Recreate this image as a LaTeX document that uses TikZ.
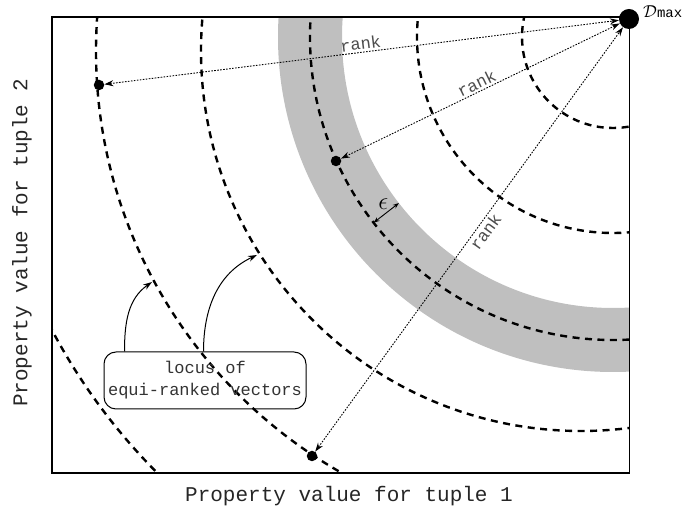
\documentclass[tikz,border=0pt]{standalone}
\usepackage{fontspec}
\newfontfamily\courier{Liberation Mono}
\usetikzlibrary{calc,arrows.meta}
\begin{document}
\begin{tikzpicture}[x=1pt,y=1pt,
  locus/.style={line width=2.4pt, dash pattern=on 7pt off 5.5pt},
  frame/.style={line width=1.6pt},
  dot/.style={circle, fill=black, inner sep=0pt, minimum size=10.5pt},
  rankline/.style={line width=0.9pt, dash pattern=on 1.6pt off 1.4pt, {Stealth[length=9pt,width=6pt]}-{Stealth[length=9pt,width=6pt]}},
  ranklabel/.style={font=\courier\fontsize{17}{17}\selectfont, text=black!70, sloped, inner sep=2pt},
  callout/.style={line width=1pt, -{Stealth[length=9pt,width=6pt]}},
  epsarrow/.style={line width=0.9pt, {Stealth[length=6pt,width=4.5pt]}-{Stealth[length=6pt,width=4.5pt]}},
  box/.style={draw, line width=1pt, rounded corners=12pt, minimum width=202pt, minimum height=57pt,
    align=center, inner sep=0pt, font=\courier\fontsize{17}{22}\selectfont, text=black!80},
  axislabel/.style={font=\courier\fontsize{21}{21}\selectfont, text=black!85, inner sep=0pt},
]
\useasboundingbox (0,0) rectangle (689,514);

% centres of the two families of equi-rank curves
\coordinate (c1) at (613,477);
\coordinate (c2) at (581,463);

\begin{scope}
  \clip (52,41) rectangle (629.5,497);
  % epsilon band around the middle curve
  \fill[gray!50, even odd rule] (c1) circle[radius=335] (c1) circle[radius=271];
  \foreach \r in {91,196,303} \draw[locus] (c1) circle[radius=\r];
  \foreach \r in {380,485,598} \draw[locus] (c2) circle[radius=\r];
\end{scope}

% plot frame
\draw[frame] (52,41) rectangle (629.5,497);

% ideal point and the three tuples
\node[dot, minimum size=20pt] (dmax) at (629,495) {};
\node[anchor=base west, inner sep=0pt, font=\fontsize{19}{19}\selectfont] (dlabel) at (643,496)
  {$\mathcal{D}$\courier\fontsize{14}{14}\selectfont max};
\node[dot] (p1) at (99,429) {};
\node[dot] (p2) at (336,353) {};
\node[dot] (p3) at (312,58) {};

% rank distances
\draw[rankline] (p1) -- node[ranklabel, above, pos=0.5] {rank} (dmax);
\draw[rankline] (p2) -- node[ranklabel, above, pos=0.5] {rank} (dmax);
\draw[rankline] (p3) -- node[ranklabel, below, pos=0.53] {rank} (dmax);

% band half-width
\coordinate (ea) at ($(c1)+(217.8:303)$);
\coordinate (eb) at ($(c1)+(217.8:271)$);
\draw[epsarrow] (ea) -- node[midway, xshift=-3pt, yshift=9pt, inner sep=0pt, font=\fontsize{24}{24}\selectfont] {$\epsilon$} (eb);

% callout
\node[box] (box) at (205,133.5) {locus of\\equi-ranked vectors};
\coordinate (t5) at (152,232);
\coordinate (t4) at (257,259);
\coordinate (b5) at ($(box.north west)+(21,0)$);
\coordinate (b4) at ($(box.north west)+(100,0)$);
\draw[callout] (b5) to[out=90, in=215] (t5);
\draw[callout] (b4) to[out=90, in=205] (t4);

% axis labels
\node[axislabel, anchor=base] (xlab) at (349,12.5) {Property value for tuple 1};
\node[axislabel, rotate=90] (ylab) at (22,271) {Property value for tuple 2};
\end{tikzpicture}
\end{document}
